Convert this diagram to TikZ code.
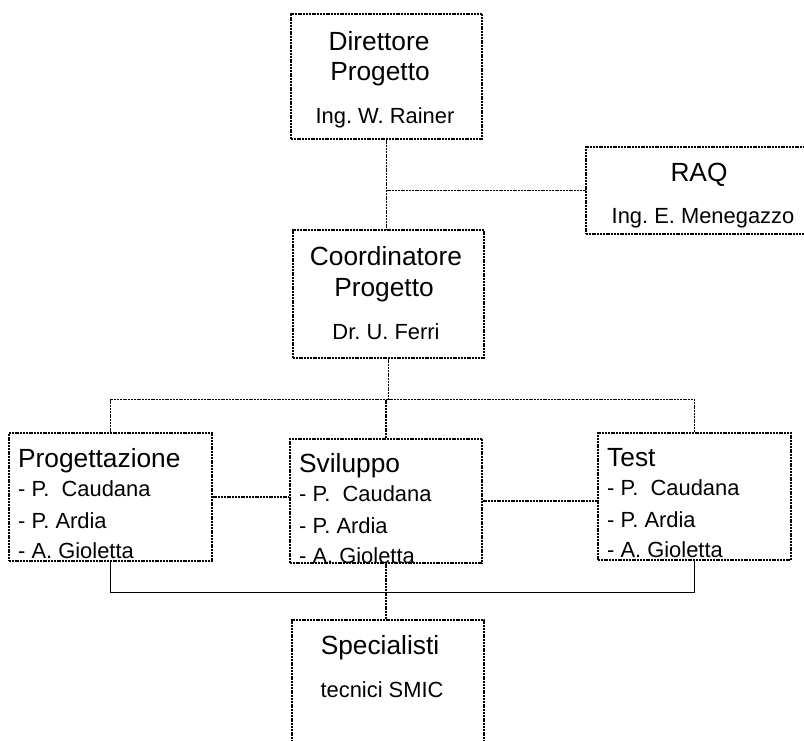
\documentclass[tikz,border=0pt]{standalone}
\usepackage{fontspec}
\setmainfont{Liberation Sans}
\newcommand\headfont{\fontsize{26.3}{31}\selectfont}
\newcommand\namefont{\fontsize{21.9}{26}\selectfont}
\frenchspacing
\tikzset{
  box/.style={draw, rectangle, dash pattern=on 2pt off 0.8pt, line width=1.3pt, inner sep=0pt},
  link/.style={dash pattern=on 2pt off 0.8pt, line width=1.3pt},
  bond/.style={line width=1.5pt},
  titletxt/.style={anchor=base, inner sep=0pt, font=\headfont},
  persontxt/.style={anchor=base, inner sep=0pt, font=\namefont},
  member/.style={anchor=base west, inner sep=0pt, font=\namefont}
}
\begin{document}
\begin{tikzpicture}[x=1pt,y=-1pt]
\useasboundingbox (0,0) rectangle (804,740);
\node[box, minimum width=191pt, minimum height=125pt] (dir) at (386.5,76.5) {};
\node[box, minimum width=234pt, minimum height=87pt] (raq) at (703,190.5) {};
\node[box, minimum width=191pt, minimum height=128pt] (coord) at (388.5,294) {};
\node[box, minimum width=203pt, minimum height=128pt] (prog) at (110.5,497) {};
\node[box, minimum width=192pt, minimum height=124pt] (svil) at (386,501) {};
\node[box, minimum width=193pt, minimum height=127pt] (test) at (694.5,496.5) {};
\node[box, minimum width=192pt, minimum height=140pt] (spec) at (388,690) {};
\node[titletxt] (dir-a) at (379,50) {Direttore};
\node[titletxt] (dir-b) at (380,80) {Progetto};
\node[persontxt] (dir-c) at (385,123) {Ing. W. Rainer};
\node[titletxt] (raq-a) at (699,181) {RAQ};
\node[persontxt] (raq-b) at (703,223) {Ing. E. Menegazzo};
\node[titletxt] (coord-a) at (386,265) {Coordinatore};
\node[titletxt] (coord-b) at (384,296) {Progetto};
\node[persontxt] (coord-c) at (386,339) {Dr. U. Ferri};
\node[titletxt] (spec-a) at (380,654) {Specialisti};
\node[persontxt] (spec-b) at (382,697) {tecnici SMIC};
\foreach \g/\t/\x/\y in {prog/Progettazione/18/467, svil/Sviluppo/299/472, test/Test/607/466} {
  \node[member, font=\headfont] (\g-t) at (\x,\y) {\t};
  \node[member] (\g-a) at (\x,\y+29) {- P.\ \ Caudana};
  \node[member] (\g-b) at (\x,\y+61) {- P. Ardia};
  \node[member] (\g-c) at (\x,\y+91) {- A. Gioletta};
}
\draw[link] (dir.south) -- (dir.south |- coord.north);
\draw[link] (dir.south |- raq.west) -- (raq.west);
\draw[link] (coord.south) -- ++(0,41) coordinate (split);
\draw[link] (prog.north) |- (split) -| (test.north);
\draw[link] (split -| svil.north) -- (svil.north);
\draw[link] (prog.east) -- (prog.east -| svil.west);
\draw[link] (svil.east) -- (svil.east -| test.west);
\draw[bond] (prog.south) -- ++(0,31) -| (test.south);
\draw[link] (svil.south) -- (svil.south |- spec.north);
\end{tikzpicture}
\end{document}
